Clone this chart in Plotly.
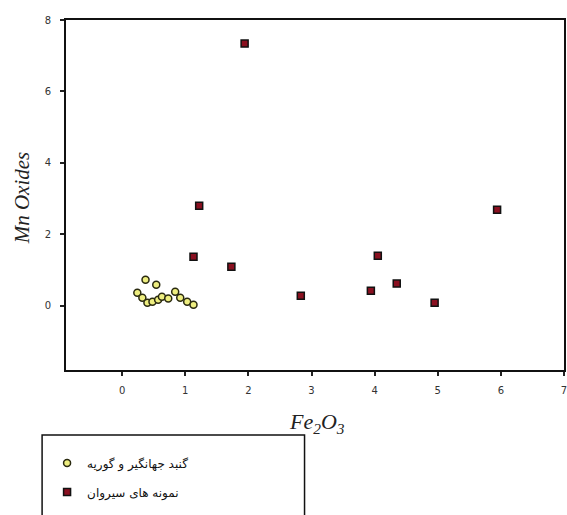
import plotly.graph_objects as go

# Data
sirvan_fe2o3 = [1.94, 1.22, 1.13, 1.73, 2.83, 3.94, 4.05, 4.35, 4.95, 5.94]
sirvan_mn = [7.34, 2.80, 1.37, 1.09, 0.28, 0.42, 1.40, 0.62, 0.08, 2.69]

gonbad_fe2o3 = [0.37, 0.54, 0.24, 0.32, 0.40, 0.48, 0.57, 0.63, 0.73, 0.84, 0.92, 1.03, 1.13]
gonbad_mn = [0.73, 0.59, 0.36, 0.22, 0.08, 0.11, 0.17, 0.25, 0.20, 0.39, 0.22, 0.11, 0.03]

x_ticks = [0, 1, 2, 3, 4, 5, 6, 7]
y_ticks = [0, 2, 4, 6, 8]

name_gonbad = "گنبد جهانگیر و گوریه"
name_sirvan = "نمونه های سیروان"

fig = go.Figure()
fig.add_trace(go.Scatter(
    x=gonbad_fe2o3, y=gonbad_mn, mode="markers", name=name_gonbad,
    legendgroup="g1",
    marker=dict(symbol="circle", size=7, color="#eeee80",
                line=dict(color="#2a2a10", width=1.5)),
))
fig.add_trace(go.Scatter(
    x=sirvan_fe2o3, y=sirvan_mn, mode="markers", name=name_sirvan,
    legendgroup="g2",
    marker=dict(symbol="square", size=7, color="#8a1020",
                line=dict(color="#111111", width=1.5)),
))

axis_common = dict(
    showgrid=False, zeroline=False, showline=True, linecolor="#111",
    linewidth=2, mirror=True, ticks="outside", ticklen=4, tickwidth=1.5,
    tickcolor="#222", tickfont=dict(family="DejaVu Sans", size=10, color="#333"),
    automargin=False, ticklabeloverflow="allow",
)

fig.update_xaxes(range=[-0.89, 7.0], tickvals=x_ticks, ticklabelstandoff=6,
                 **axis_common)
fig.update_yaxes(range=[-1.8, 8.0], tickvals=y_ticks, ticklabelstandoff=7,
                 **axis_common)

fig.add_annotation(
    text="<i>Mn Oxides</i>", xref="paper", yref="paper", x=-0.088, y=0.491,
    xanchor="center", yanchor="middle",
    textangle=-90, showarrow=False,
    font=dict(family="Liberation Serif", size=21, color="#222"),
)
fig.add_annotation(
    text="<i>Fe<sub>2</sub>O<sub>3</sub></i>", xref="paper", yref="paper",
    x=0.505, y=-0.151, xanchor="center", yanchor="middle", showarrow=False,
    font=dict(family="Liberation Serif", size=22, color="#222"),
)

# legend frame (extends past the bottom edge as in the reference)
fig.add_shape(
    type="rect", xref="paper", yref="paper",
    x0=-0.048, x1=0.479, y0=-0.186, y1=-0.46,
    line=dict(color="#111", width=1.5), fillcolor="white", layer="below",
)

fig.update_layout(
    width=567, height=515,
    margin=dict(l=66, r=3, t=20, b=145),
    paper_bgcolor="white", plot_bgcolor="white",
    showlegend=True,
    legend=dict(
        x=-0.038, y=-0.224, xanchor="left", yanchor="top",
        bgcolor="rgba(0,0,0,0)", borderwidth=0,
        font=dict(family="DejaVu Sans", size=12, color="#111"),
        traceorder="grouped", tracegroupgap=10,
    ),
)

fig.write_html(
    "out.html",
    config={"displayModeBar": False},
    post_script="document.body.style.margin='0';document.body.style.overflow='hidden';",
)
